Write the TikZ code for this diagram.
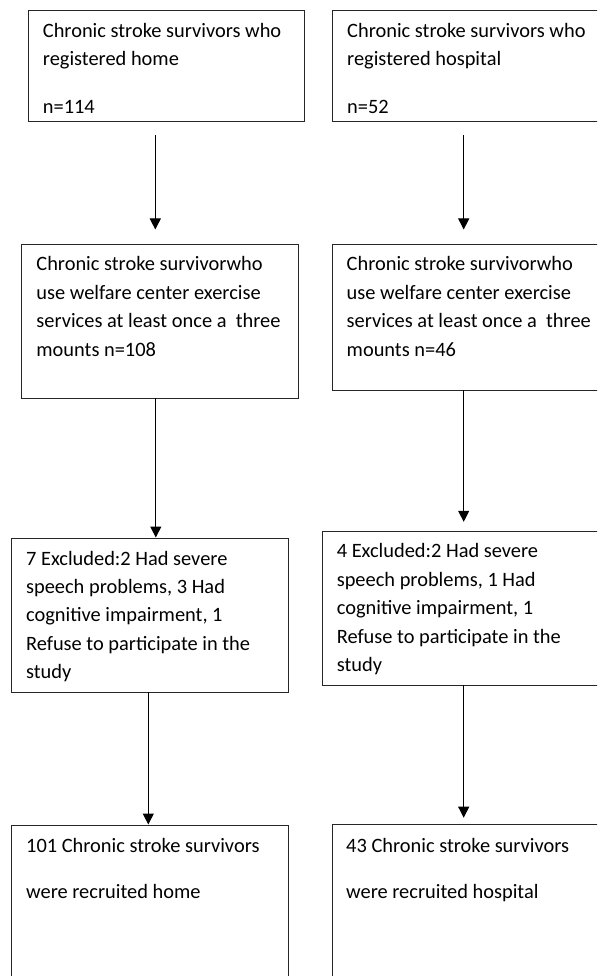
\documentclass[tikz,border=0pt]{standalone}
\usepackage{fontspec}
\setmainfont{Carlito}
\usetikzlibrary{arrows.meta}
\tikzset{
  box/.style={draw=black!85, line width=1pt, inner sep=0pt, anchor=north west, rectangle},
  txt/.style={anchor=base west, inner sep=0pt, align=left, font=\fontsize{20.4}{28.4}\selectfont},
  arr/.style={draw=black, line width=1pt, -{Triangle[length=11pt,width=11pt]}}
}
\begin{document}
\begin{tikzpicture}[x=1pt,y=-1pt]
\useasboundingbox (0,0) rectangle (597,976);
\clip (0,0) rectangle (597,976);
% boxes
\node[box, minimum width=276.6pt, minimum height=111.5pt] (b1) at (27.7,10) {};
\node[box, minimum width=280pt, minimum height=111.5pt] (b2) at (331.7,10) {};
\node[box, minimum width=276.7pt, minimum height=154.3pt] (b3) at (21,243.5) {};
\node[box, minimum width=280pt, minimum height=146.5pt] (b4) at (331.7,243.5) {};
\node[box, minimum width=277pt, minimum height=154.7pt] (b5) at (11,537.5) {};
\node[box, minimum width=290pt, minimum height=154pt] (b6) at (322,530.8) {};
\node[box, minimum width=276.7pt, minimum height=170pt] (b7) at (11,824.5) {};
\node[box, minimum width=280pt, minimum height=170pt] (b8) at (331.7,824.3) {};
% texts (anchored at the baseline of their last line)
\node[txt] (t1) at (42.7,113.3) {Chronic stroke survivors who\\registered home\\[19.4pt]n=114};
\node[txt] (t2) at (347,113.3) {Chronic stroke survivors who\\registered hospital\\[19.4pt]n=52};
\node[txt] (t3) at (36.2,356) {Chronic stroke survivorwho\\use welfare center exercise\\services at least once a\ \ three\\mounts n=108};
\node[txt] (t4) at (346.5,356) {Chronic stroke survivorwho\\use welfare center exercise\\services at least once a\ \ three\\mounts n=46};
\node[txt] (t5) at (25.9,678.6) {7 Excluded:2 Had severe\\speech problems, 3 Had\\cognitive impairment, 1\\Refuse to participate in the\\study};
\node[txt] (t6) at (336.6,671.4) {4 Excluded:2 Had severe\\speech problems, 1 Had\\cognitive impairment, 1\\Refuse to participate in the\\study};
\node[txt] (t7) at (26,898) {101 Chronic stroke survivors\\[17.3pt]were recruited home};
\node[txt] (t8) at (346,898) {43 Chronic stroke survivors\\[17.3pt]were recruited hospital};
% arrow start points
\coordinate (s1) at (155.3,135);
\coordinate (s2) at (463.7,135);
\coordinate (s3) at (155.8,397.8);
\coordinate (s4) at (463.7,390);
\coordinate (s5) at (148.3,692.2);
\coordinate (s6) at (463.7,684.8);
% arrows
\draw[arr, shorten >=14pt] (s1) -- (s1 |- b3.north);
\draw[arr, shorten >=14pt] (s2) -- (s2 |- b4.north);
\draw[arr] (s3) -- (s3 |- b5.north);
\draw[arr, shorten >=9pt] (s4) -- (s4 |- b6.north);
\draw[arr] (s5) -- (s5 |- b7.north);
\draw[arr, shorten >=6.6pt] (s6) -- (s6 |- b8.north);
\end{tikzpicture}
\end{document}
